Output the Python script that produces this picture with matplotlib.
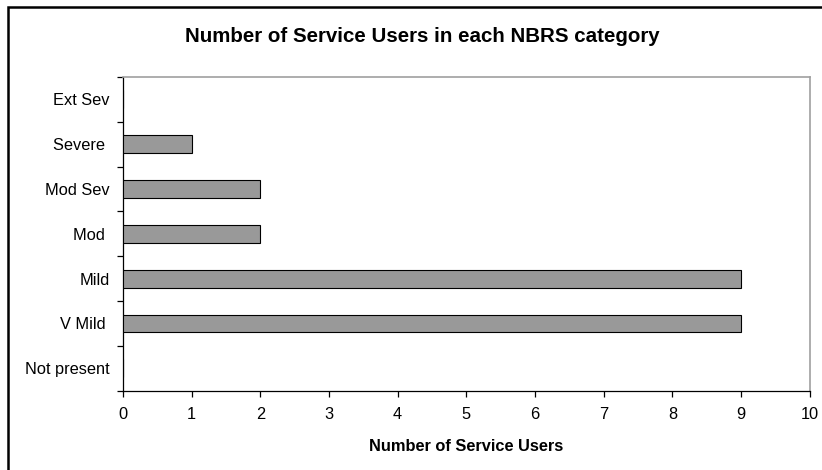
import matplotlib
matplotlib.use("Agg")
import matplotlib.pyplot as plt
from matplotlib.patches import Rectangle

plt.rcParams['font.family'] = ['Liberation Sans', 'DejaVu Sans']

categories = ["Not present", "V Mild ", "Mild", "Mod ", "Mod Sev", "Severe ", "Ext Sev"]
values = [0, 9, 9, 2, 2, 1, 0]
xticks = list(range(0, 11))

W, H = 822, 470
fig = plt.figure(figsize=(W / 100, H / 100), dpi=100)

# outer frame
fig.patches.append(Rectangle((8 / W, -0.1), 1.2, (H - 7) / H + 0.1, transform=fig.transFigure,
                             fill=False, edgecolor="black", linewidth=1.8, zorder=0))

ax = fig.add_axes([123 / W, 1 - 390.7 / H, (809.7 - 123) / W, (390.7 - 77) / H])
ypos = list(range(len(categories)))
ax.barh(ypos, values, height=0.4, color="#999999", edgecolor="black", linewidth=0.8, zorder=3)

ax.set_xlim(0, 10)
ax.set_ylim(-0.5, len(categories) - 0.5)
ax.set_xticks(xticks)
ax.set_xticklabels([str(t) for t in xticks], fontsize=11.8)
ax.set_yticks([i for i in ypos])
ax.set_yticklabels(categories, fontsize=11.8)
ax.tick_params(axis="y", which="major", length=0, pad=9.5)
ax.set_yticks([i - 0.5 for i in range(len(categories) + 1)], minor=True)
ax.tick_params(axis="y", which="minor", length=4, width=0.9, direction="out", color="black")
ax.tick_params(axis="x", length=4, width=0.9, direction="out", color="black", pad=8)

for s in ["left", "bottom"]:
    ax.spines[s].set_color("black")
    ax.spines[s].set_linewidth(0.9)
for s in ["top", "right"]:
    ax.spines[s].set_color("#a0a0a0")
    ax.spines[s].set_linewidth(1.2)

ax.set_xlabel("Number of Service Users", fontsize=11.8, fontweight="bold", labelpad=12)
fig.text(422 / W, 1 - 37 / H, "Number of Service Users in each NBRS category",
         fontsize=14.8, fontweight="bold", ha="center", va="center")

fig.savefig("out.png", dpi=100)
